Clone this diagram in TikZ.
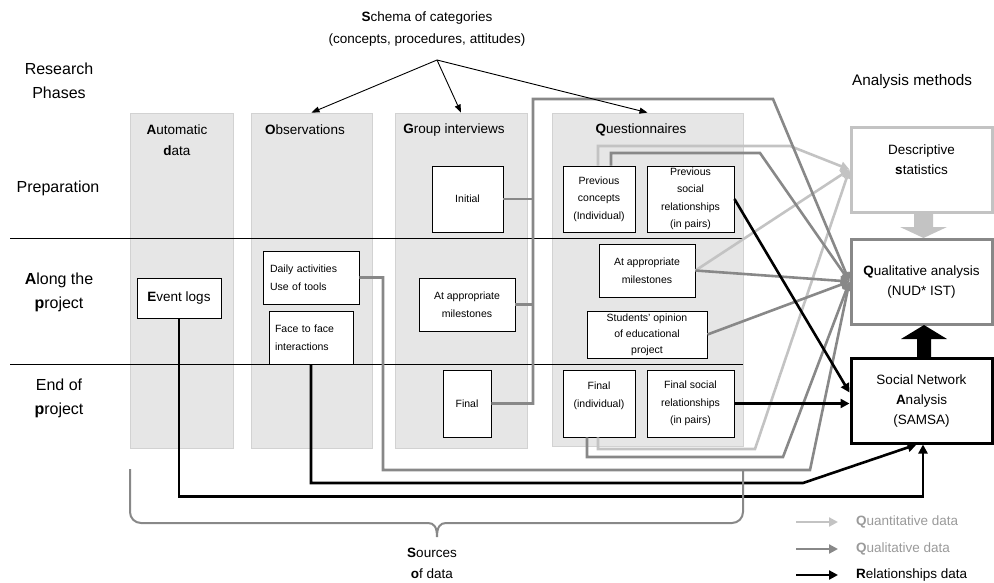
\documentclass[tikz,border=0pt]{standalone}
\usepackage{fontspec}
\setmainfont{Liberation Sans}
\usetikzlibrary{arrows.meta,calc}
\definecolor{lgray}{HTML}{C3C3C3}
\definecolor{mgray}{HTML}{888888}
\definecolor{colfill}{HTML}{E6E6E6}
\definecolor{colline}{HTML}{D2D2D2}
\definecolor{legtxt}{HTML}{9A9A9A}
\begin{document}
\begin{tikzpicture}[x=1pt,y=-1pt,
  colbox/.style={draw=colline, fill=colfill, line width=0.8pt, inner sep=0pt},
  ibox/.style={draw=black, fill=white, line width=0.9pt, inner sep=0pt, align=center, font=\fontsize{10.5}{17.5}\selectfont},
  abox/.style={fill=white, line width=3pt, inner sep=0pt, align=center, font=\fontsize{13.5}{20}\selectfont, minimum width=141pt, minimum height=85pt},
  phase/.style={font=\fontsize{16}{24}\selectfont, align=center},
  ttl/.style={font=\fontsize{13.5}{21}\selectfont, align=center},
  legtext/.style={anchor=west, inner sep=0pt, font=\fontsize{13.5}{16}\selectfont},
  qlink/.style={draw=mgray, line width=2.6pt, -{Triangle[length=9pt,width=9pt]}},
  nlink/.style={draw=lgray, line width=2.6pt, -{Triangle[length=9pt,width=9pt]}},
  rlink/.style={draw=black, line width=2.6pt, -{Triangle[length=9pt,width=9pt]}},
  slink/.style={draw=black, line width=0.9pt, -{Triangle[length=8pt,width=6pt]}},
  gline/.style={draw=mgray, line width=2.6pt},
  bracestyle/.style={draw=mgray, line width=2pt},
]
\useasboundingbox (0,0) rectangle (994,582);

% columns
\node[colbox, minimum width=103pt, minimum height=335pt] (colA) at (181.5,280.5) {};
\node[colbox, minimum width=121pt, minimum height=335pt] (colO) at (311.5,280.5) {};
\node[colbox, minimum width=132pt, minimum height=335pt] (colG) at (461,280.5) {};
\node[colbox, minimum width=191pt, minimum height=333pt] (colQ) at (647.5,279.5) {};

% phase separators
\coordinate (h1a) at (10,238); \coordinate (h1b) at (743,238);
\coordinate (h2a) at (10,364); \coordinate (h2b) at (743,364);
\draw[line width=0.8pt] (h1a) -- (h1b);
\draw[line width=0.8pt] (h2a) -- (h2b);

% texts
\node[ttl, font=\fontsize{13.5}{22}\selectfont] (schema) at (427,29) {\textbf{S}chema of categories\\(concepts, procedures, attitudes)};
\coordinate (sc) at (437,60);
\node[phase] (ph0) at (59,81) {Research\\Phases};
\node[phase] (ph1) at (58,188) {Preparation};
\node[phase] (ph2) at (59,292) {\textbf{A}long the\\\textbf{p}roject};
\node[phase] (ph3) at (59,398) {End of\\\textbf{p}roject};
\node[font=\fontsize{15.3}{18}\selectfont] (am) at (912,82) {Analysis methods};

\node[ttl] (tA) at (177,140.5) {\textbf{A}utomatic\\\textbf{d}ata};
\node[ttl] (tO) at (305,130) {\textbf{O}bservations};
\node[ttl] (tG) at (454,130) {\textbf{G}roup interviews};
\node[ttl] (tQ) at (641,130) {\textbf{Q}uestionnaires};

% inner boxes
\node[ibox, minimum width=84pt, minimum height=40pt, font=\fontsize{13.5}{17}\selectfont] (evlog) at (179,298) {\textbf{E}vent logs};
\node[ibox, align=left, text width=82pt, inner xsep=7pt, minimum height=53pt] (daily) at (311,277.5) {Daily activities\\Use of tools};
\node[ibox, align=left, text width=72pt, inner xsep=6pt, minimum height=53pt] (face) at (311,337.5) {Face to face\\interactions};

\node[ibox, minimum width=71pt, minimum height=66pt] (initial) at (467.5,199) {Initial};
\node[ibox, minimum width=96pt, minimum height=53pt] (gimil) at (467,304.5) {At appropriate\\milestones};
\node[ibox, minimum width=48pt, minimum height=67pt] (gifin) at (467,403.5) {Final};

\node[ibox, minimum width=72pt, minimum height=66pt] (pc) at (599,199) {Previous\\concepts\\(Individual)};
\node[ibox, minimum width=87pt, minimum height=66pt] (ps) at (690.5,199) {Previous\\social\\relationships\\(in pairs)};
\node[ibox, minimum width=96pt, minimum height=53pt] (qmil) at (647,270.5) {At appropriate\\milestones};
\node[ibox, minimum width=120pt, minimum height=47pt, font=\fontsize{10.5}{16}\selectfont] (stud) at (647,334.5) {Students' opinion\\of educational\\project};
\node[ibox, minimum width=72pt, minimum height=67pt] (fi) at (599,403.5) {Final\\(individual)\\~};
\node[ibox, minimum width=87pt, minimum height=67pt] (fs) at (690.5,403.5) {Final social\\relationships\\(in pairs)};

% analysis boxes
\node[abox, draw=lgray] (desc) at (921.5,169.5) {Descriptive\\\textbf{s}tatistics\\~};
\node[abox, draw=mgray] (qual) at (921.5,281.5) {\textbf{Q}ualitative analysis\\(NUD* IST)};
\node[abox, draw=black] (sna) at (921.5,400.5) {Social Network\\\textbf{A}nalysis\\(SAMSA)};

% block arrows
\fill[lgray] (914,213.5) -- (933,213.5) -- (933,227) -- (947,227) -- (923.5,238) -- (900,227) -- (914,227) -- cycle;
\fill[black] (917,357) -- (931,357) -- (931,339) -- (947,339) -- (924,325) -- (901,339) -- (917,339) -- cycle;

% light gray (quantitative) links
\coordinate (pcl) at (790,146);
\coordinate (fil) at (755,449);
\draw[nlink] ($(pc.north)+(-1,0)$) |- (pcl) -- (desc.west);
\draw[nlink] (qmil.east) -- (desc.west);
\draw[nlink] ($(fi.south)+(-1,0)$) |- (fil) -- (desc.west);

% gray (qualitative) links
\coordinate (gv) at (533,99);
\coordinate (gt) at (773,99);
\draw[qlink] (gifin.east) -| (gv) -- (gt) -- (qual.west);
\draw[gline] (initial.east) -- (initial.east -| gv);
\draw[gline] (gimil.east) -- (gimil.east -| gv);
\coordinate (ov) at (383,470);
\coordinate (ot) at (810,470);
\draw[qlink] (daily.east) -| (ov) -- (ot) -- (qual.west);
\coordinate (pcg) at (760,153);
\draw[qlink] ($(pc.north)+(12,0)$) |- (pcg) -- (qual.west);
\draw[qlink] (qmil.east) -- (qual.west);
\draw[qlink] (stud.east) -- (qual.west);
\coordinate (fig) at (783,457);
\draw[qlink] ($(fi.south)+(-12,0)$) |- (fig) -- (qual.west);

% black (relationships) links
\draw[rlink] (ps.east) -- ($(sna.west)+(0,-8)$);
\draw[rlink] (fs.east) -- (fs.east -| sna.west);
\coordinate (ff) at (803,483);
\draw[rlink] (face.south) |- (ff) -- ($(sna.south)+(-5,0)$);
\draw[rlink] (evlog.south) |- ($(sna.south)+(1.5,52)$) -- ($(sna.south)+(1.5,0)$);

% schema arrows
\draw[slink] (sc) -- (colO.north);
\draw[slink] (sc) -- (colG.north);
\draw[slink] (sc) -- (colQ.north);

% brace
\draw[bracestyle, rounded corners=11pt] (130,469) -- (130,523) -- (428,523);
\draw[bracestyle] (428,523) .. controls (434,523) and (437,527) .. (437,537)
                  .. controls (437,527) and (440,523) .. (446,523);
\draw[bracestyle, rounded corners=11pt] (446,523) -- (743,523) -- (743,469);
\node[ttl] (src) at (432,563.5) {\textbf{S}ources\\\textbf{o}f data};

% legend
\coordinate (l1a) at (796,522); \coordinate (l1b) at (838,522);
\coordinate (l2a) at (796,549); \coordinate (l2b) at (838,549);
\coordinate (l3a) at (796,575); \coordinate (l3b) at (838,575);
\draw[nlink] (l1a) -- (l1b);
\draw[qlink] (l2a) -- (l2b);
\draw[rlink] (l3a) -- (l3b);
\node[legtext, text=legtxt] (lt1) at (856,522) {\textbf{Q}uantitative data};
\node[legtext, text=legtxt] (lt2) at (856,549) {\textbf{Q}ualitative data};
\node[legtext] (lt3) at (856,575) {\textbf{R}elationships data};
\end{tikzpicture}
\end{document}
